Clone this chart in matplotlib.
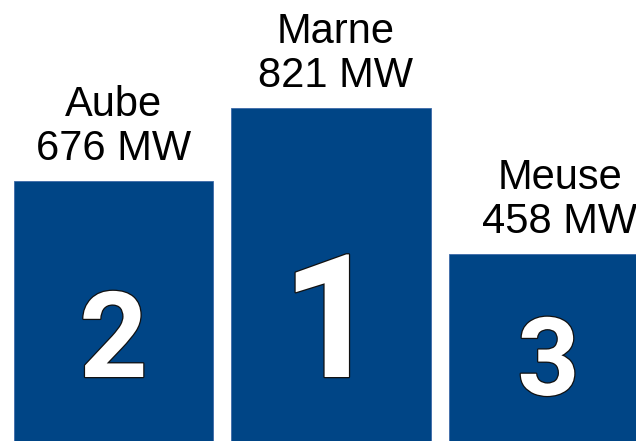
import matplotlib
matplotlib.use('Agg')
import matplotlib.pyplot as plt
import matplotlib.patheffects as pe

plt.rcParams['font.family'] = ['Liberation Sans', 'DejaVu Sans']

# Data
departments = ['Aube', 'Marne', 'Meuse']
power_mw = [676, 821, 458]
ranks = [2, 1, 3]

# Podium step heights come from the rank (1st = highest step)
levels = [4 - r for r in ranks]
base = -2  # bars run below the bottom edge

# digit font size and baseline per rank (podium look)
digit_size = {1: 124, 2: 86, 3: 78}
digit_base = {1: -0.685, 2: -0.685, 3: -0.93}
label_dx = {1: 3, 2: 0, 3: 8}  # small horizontal nudges, points

fig = plt.figure(figsize=(6.36, 4.41), dpi=100)
ax = fig.add_axes([0, 0, 1, 1])

x = list(range(len(departments)))
ax.bar(x, [lv - base for lv in levels], bottom=base, width=0.915,
       color='#004586', edgecolor='#3d6aa8', linewidth=0.6)

for xi, name, mw, lv, rk in zip(x, departments, power_mw, levels, ranks):
    ax.annotate(f'{name}\n{mw} MW', (xi, lv), xytext=(label_dx[rk], 15),
                textcoords='offset points', ha='center', va='baseline',
                fontsize=30, linespacing=1.12, color='black')
    # rank digit, white with a thin dark outline
    ax.text(xi, digit_base[rk], str(rk), ha='center', va='baseline',
            fontsize=digit_size[rk], fontweight='bold', color='white',
            family='Roboto',
            path_effects=[pe.Stroke(linewidth=1.8, foreground='#111111'),
                          pe.Normal()])

ax.set_xlim(-0.5218, 2.4023)
ax.set_ylim(-1.5616, 4.4795)
ax.axis('off')

fig.savefig('out.png', dpi=100)
